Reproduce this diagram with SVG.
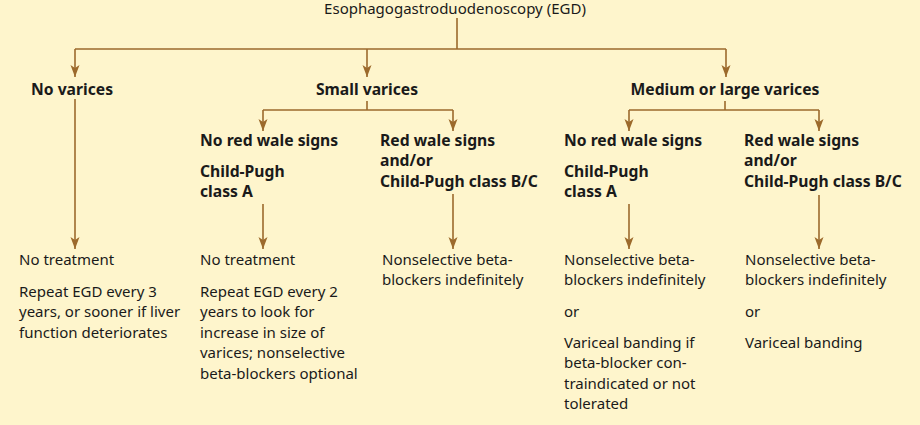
<svg xmlns="http://www.w3.org/2000/svg" width="920" height="425" viewBox="0 0 920 425">
<style>
text{font-family:"Noto Sans","Liberation Sans",sans-serif;font-size:15px;fill:#1a1a1a}
.b{font-weight:700;font-size:15.7px}
.c{stroke:#9c6a2c;stroke-width:1.6;fill:none}
.a{marker-end:url(#ah)}
</style>
<defs>
<marker id="ah" viewBox="-1 -6 14 12" refX="12" refY="0" markerWidth="14" markerHeight="12" markerUnits="userSpaceOnUse" orient="auto">
<path d="M0,-4.5 L12,0 L0,4.5 L3,0 z" fill="#9c6a2c"/>
</marker>
</defs>
<rect width="920" height="425" fill="#fef5cc"/>
<g id="connectors">
<path class="c" d="M457,18 V49 M75,49 H726"/>
<path class="c a" d="M75,49 V77"/>
<path class="c a" d="M367,49 V77"/>
<path class="c a" d="M726,49 V77"/>
<path class="c a" d="M75,99 V249"/>
<path class="c" d="M367,101 V110 M263,110 H453"/>
<path class="c a" d="M263,110 V131"/>
<path class="c a" d="M453,110 V131"/>
<path class="c" d="M725,101 V110 M629,110 H819"/>
<path class="c a" d="M629,110 V131"/>
<path class="c a" d="M819,110 V131"/>
<path class="c a" d="M263,204 V249"/>
<path class="c a" d="M453,194 V249"/>
<path class="c a" d="M629,204 V249"/>
<path class="c a" d="M819,195 V249"/>
</g>
<g id="egd"><text x="455" y="14" text-anchor="middle">Esophagogastroduodenoscopy (EGD)</text></g>
<g id="no-varices"><text class="b" x="31" y="95">No varices</text></g>
<g id="small-varices"><text class="b" x="367" y="95" text-anchor="middle">Small varices</text></g>
<g id="medium-large"><text class="b" x="725" y="95" text-anchor="middle">Medium or large varices</text></g>
<g id="small-no-red"><text class="b" x="200" y="146">No red wale signs</text><text class="b" x="200" y="177">Child-Pugh</text><text class="b" x="200" y="197">class A</text></g>
<g id="small-red"><text class="b" x="380" y="146">Red wale signs</text><text class="b" x="380" y="166">and/or</text><text class="b" x="380" y="187">Child-Pugh class B/C</text></g>
<g id="med-no-red"><text class="b" x="564" y="146">No red wale signs</text><text class="b" x="564" y="177">Child-Pugh</text><text class="b" x="564" y="197">class A</text></g>
<g id="med-red"><text class="b" x="744" y="146">Red wale signs</text><text class="b" x="744" y="166">and/or</text><text class="b" x="744" y="187">Child-Pugh class B/C</text></g>
<g id="tx-none"><text x="19" y="265">No treatment</text><text x="19" y="297">Repeat EGD every 3</text><text x="19" y="317">years, or sooner if liver</text><text x="19" y="338">function deteriorates</text></g>
<g id="tx-small"><text x="200" y="265">No treatment</text><text x="200" y="297">Repeat EGD every 2</text><text x="200" y="317">years to look for</text><text x="200" y="338">increase in size of</text><text x="200" y="358">varices; nonselective</text><text x="200" y="379">beta-blockers optional</text></g>
<g id="tx-small-red"><text x="382" y="265">Nonselective beta-</text><text x="382" y="285">blockers indefinitely</text></g>
<g id="tx-med"><text x="564" y="265">Nonselective beta-</text><text x="564" y="285">blockers indefinitely</text><text x="564" y="317">or</text><text x="564" y="348">Variceal banding if</text><text x="564" y="368">beta-blocker con-</text><text x="564" y="389">traindicated or not</text><text x="564" y="409">tolerated</text></g>
<g id="tx-med-red"><text x="745" y="265">Nonselective beta-</text><text x="745" y="285">blockers indefinitely</text><text x="745" y="317">or</text><text x="745" y="348">Variceal banding</text></g>
</svg>
